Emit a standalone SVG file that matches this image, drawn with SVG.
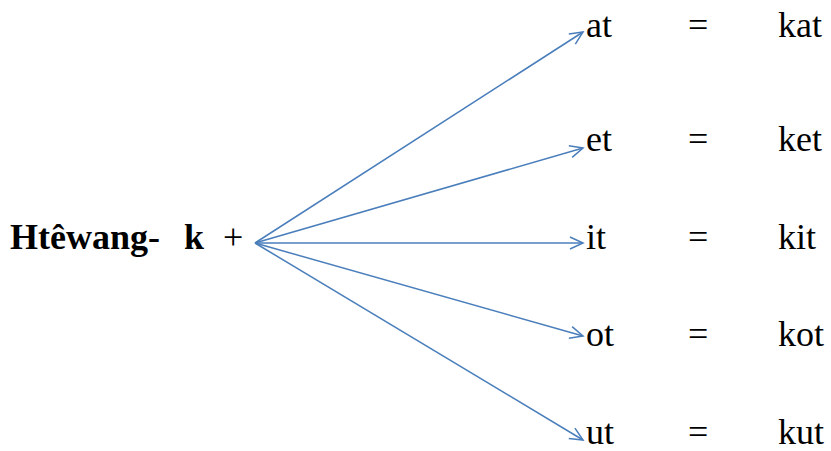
<svg xmlns="http://www.w3.org/2000/svg" width="831" height="451" viewBox="0 0 831 451">
<defs>
<marker id="ah" markerWidth="20" markerHeight="20" refX="14" refY="7" orient="auto" markerUnits="userSpaceOnUse">
<path d="M1,1 L14,7 L1,13" fill="none" stroke="#4a7ebb" stroke-width="1.5"/>
</marker>
<style>
.t{font-family:'Times New Roman',Tinos,'Liberation Serif','Noto Serif','DejaVu Serif',serif;font-size:36px;fill:#000}
.b{font-weight:bold}
.c line{stroke:#4a7ebb;stroke-width:1.5;marker-end:url(#ah)}
</style>
</defs>
<rect width="831" height="451" fill="#fff"/>
<g id="source">
<text x="10" y="249" class="t b">Htêwang-</text>
<text x="184" y="249" class="t b">k</text>
<text x="223" y="249" class="t">+</text>
</g>
<g class="c" id="connectors">
<line x1="255" y1="243" x2="583" y2="32"/>
<line x1="255" y1="243" x2="583" y2="148"/>
<line x1="255" y1="243" x2="583" y2="243"/>
<line x1="255" y1="243" x2="583" y2="336"/>
<line x1="255" y1="243" x2="583" y2="440"/>
</g>
<g id="n-at"><text x="586" y="37" class="t">at</text><text x="688" y="37" class="t">=</text><text x="778" y="37" class="t">kat</text></g>
<g id="n-et"><text x="586" y="151" class="t">et</text><text x="688" y="151" class="t">=</text><text x="778" y="151" class="t">ket</text></g>
<g id="n-it"><text x="586" y="249" class="t">it</text><text x="688" y="249" class="t">=</text><text x="778" y="249" class="t">kit</text></g>
<g id="n-ot"><text x="586" y="346" class="t">ot</text><text x="688" y="346" class="t">=</text><text x="778" y="346" class="t">kot</text></g>
<g id="n-ut"><text x="586" y="444" class="t">ut</text><text x="688" y="444" class="t">=</text><text x="778" y="444" class="t">kut</text></g>
</svg>
